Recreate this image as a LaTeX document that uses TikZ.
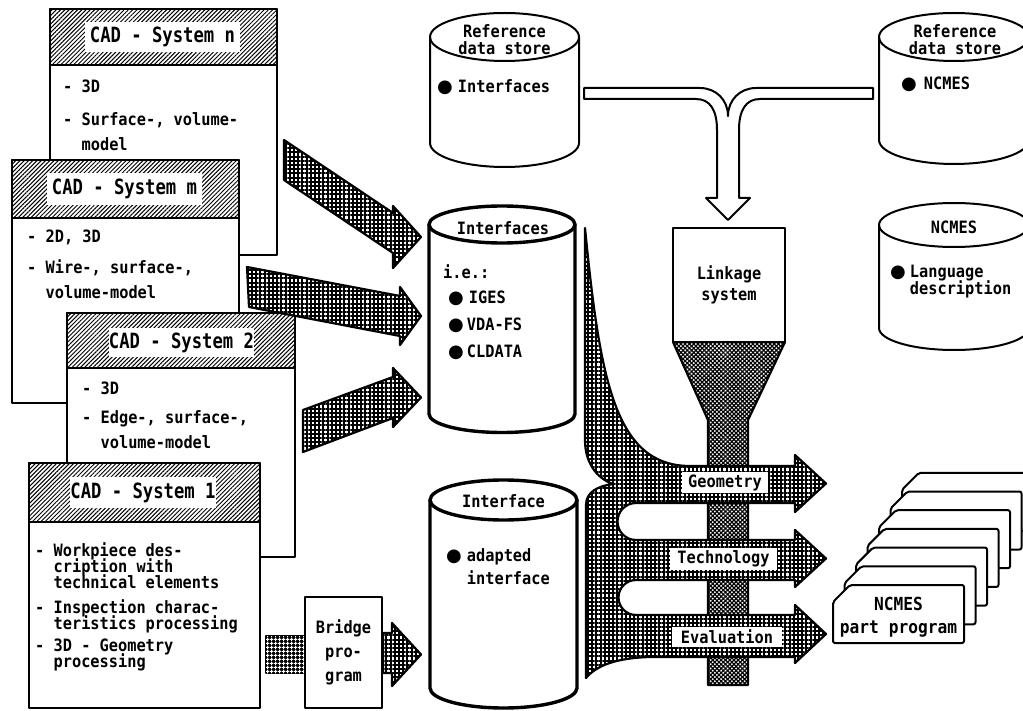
\documentclass[tikz,border=0pt]{standalone}
\usepackage{fontspec}
\usetikzlibrary{patterns.meta}
\newfontfamily\monofam[FakeStretch=0.9]{DejaVu Sans Mono Bold}
\newfontfamily\headfam[FakeStretch=0.82]{DejaVu Sans Mono Bold}
\newfontfamily\bulfam{DejaVu Sans}
\newcommand\txtfont[2]{\monofam\fontsize{#1}{#2}\selectfont\lineskiplimit=-30pt\relax}
\newcommand\cadfont{\headfam\fontsize{21}{24}\selectfont}
\newcommand\bul{{\bulfam\fontsize{18}{18}\selectfont ●}}
% cylinder: [style]{cx}{top cy}{bottom cy}{rx}{ry}
\newcommand\drum[6][]{%
  \draw[#1] ({#2-#5},#3) -- ({#2-#5},#4)
     arc[start angle=180,end angle=0,x radius=#5,y radius=#6] -- ({#2+#5},#3);
  \draw[#1] (#2,#3) ellipse[x radius=#5,y radius=#6];
}
\begin{document}
\begin{tikzpicture}[x=1pt,y=-1pt,line join=round,
  cadbox/.style={draw,line width=2.4pt,fill=white},
  cadhatch/.style={draw,line width=2.4pt,
     pattern={Lines[angle=45,distance=3pt,line width=1pt]}},
  cadtitle/.style={fill=white,inner sep=0pt,font=\cadfont},
  item/.style={anchor=north west,inner sep=0pt,align=left,font=\txtfont{17}{25}},
  tight/.style={item,font=\txtfont{17}{16}},
  txt/.style={inner sep=0pt,font=\txtfont{17}{21}},
  gridarrow/.style={draw,line width=2.2pt,preaction={fill=white},
     pattern={Hatch[angle=0,distance=4.2pt,line width=2pt]}},
  fineflow/.style={draw,line width=2.2pt,preaction={fill=white},
     pattern={Hatch[angle=45,distance=3pt,line width=1.2pt]}},
  store/.style={line width=2pt},
  boldstore/.style={line width=3.4pt},
  plainbox/.style={draw,line width=2.2pt,fill=white,inner sep=0pt,align=center},
  lab/.style={fill=white,inner sep=0pt,font=\txtfont{17}{20}},
  card/.style={draw,line width=2pt,fill=white,rounded corners=2pt}
]
\useasboundingbox (0,0) rectangle (1023,711);
\clip (0,0) rectangle (1023,711);

% ---------- CAD systems ----------
\draw[cadbox] (50,9) rectangle (277,255);
\draw[cadhatch] (50,9) rectangle (277,65);
\node[cadtitle,minimum width=155,minimum height=30] (tn) at (162.5,37) {CAD - System n};
\node[item] (n1) at (63,80) {- 3D};
\node[item] (n2) at (63,112) {- Surface-, volume-\\\hphantom{- }model};

\draw[cadbox] (12,160) rectangle (239,403);
\draw[cadhatch] (12,160) rectangle (239,218);
\node[cadtitle,minimum width=155,minimum height=32] (tm) at (124.5,189) {CAD - System m};
\node[item] (m1) at (27,230) {- 2D, 3D};
\node[item] (m2) at (27,259) {- Wire-, surface-,\\\hphantom{- }volume-model};

\draw[cadbox] (67,313) rectangle (295,557);
\draw[cadhatch] (67,313) rectangle (295,368);
\node[cadtitle,minimum width=141,minimum height=29] (t2) at (181.5,342.5) {CAD - System 2};
\node[item] (s1) at (82,382) {- 3D};
\node[item] (s2) at (82,410) {- Edge-, surface-,\\\hphantom{- }volume-model};

\draw[cadbox] (29,463) rectangle (260,708);
\draw[cadhatch] (29,463) rectangle (260,522);
\node[cadtitle,minimum width=140,minimum height=31] (t1) at (143,492.5) {CAD - System 1};
\node[tight] (w1) at (35,542) {- Workpiece des-\\\hphantom{- }cription with\\\hphantom{- }technical elements};
\node[tight] (w2) at (35,599) {- Inspection charac-\\\hphantom{- }teristics processing};
\node[tight] (w3) at (35,639) {- 3D - Geometry\\\hphantom{- }processing};

% ---------- transfer arrows into the interface store ----------
\draw[gridarrow] (284,140) -- (393,213) -- (393,206) -- (421,237) -- (393,268) -- (393,253) -- (284,180) -- cycle;
\draw[gridarrow] (247,267) -- (400,296) -- (400,287) -- (421,316) -- (400,345) -- (400,336) -- (249,307) -- cycle;
\draw[gridarrow] (303,410) -- (393,377) -- (393,368) -- (421,397.5) -- (393,427) -- (393,418) -- (303,452) -- cycle;

% ---------- bridge program ----------
\draw[line width=1.5pt,fill=black,
      postaction={pattern={Hatch[angle=0,distance=4pt,line width=1pt]},pattern color=white}]
      (266,636) rectangle (305,673);
\node[plainbox,minimum width=77,minimum height=111,font=\txtfont{17}{24}] (bridge) at (343.5,652.5) {Bridge\\pro-\\gram};
\draw[gridarrow] (bridge.east |- 0,633) -- (392,633) -- (392,623) -- (421,654.5) -- (392,686) -- (392,673) -- (bridge.east |- 0,673) -- cycle;

% ---------- data stores ----------
\drum[store]{504.5}{37}{143}{74.5}{24}
\node[txt,align=center,font=\txtfont{17}{17}] (refl) at (504.5,40) {Reference\\data store};
\node[txt,anchor=base west] (refli) at (437,93) {\bul\hspace{5pt}Interfaces};

\drum[store]{954}{37}{140}{75}{24}
\node[txt,align=center,font=\txtfont{17}{17}] (refr) at (955,40) {Reference\\data store};
\node[txt,anchor=base west] (refrn) at (901,90) {\bul\hspace{7pt}NCMES};

\drum[store]{954}{225}{328}{75}{22}
\node[txt] (ncl) at (954,227) {NCMES};
\node[item,font=\txtfont{17}{17}] (lang) at (890,265) {\bul\hspace{4pt}Language\\\hphantom{\bul\hspace{4pt}}description};

\drum[boldstore]{502}{224.5}{414}{73}{18.5}
\node[txt,anchor=base] (ifs) at (503,235) {Interfaces};
\node[txt,anchor=base west] (ie) at (443,279) {i.e.:};
\node[txt,anchor=base west] (iges) at (448,304) {\bul\hspace{5pt}IGES};
\node[txt,anchor=base west] (vda) at (448,331) {\bul\hspace{3pt}VDA-FS};
\node[txt,anchor=base west] (cld) at (448,358) {\bul\hspace{3pt}CLDATA};

\drum[boldstore]{503.5}{500}{688}{73.5}{20}
\node[txt,anchor=base] (ifc) at (503.5,507) {Interface};
\node[item,font=\txtfont{17}{23}] (adp) at (446,548.7) {\bul\hspace{5pt}adapted\\\hphantom{\bul\hspace{5pt}}interface};

% ---------- reference data feed into the linkage system ----------
\draw[line width=2pt,fill=white]
  (584,88) -- (700,88) .. controls (716,88) and (728,100) .. (728,116)
  .. controls (728,100) and (740,88) .. (756,88) -- (873,88) -- (873,99)
  -- (760,99) .. controls (746,99) and (739,110) .. (739,130) -- (739,198)
  -- (750,198) -- (728,220) -- (706,198) -- (717,198) -- (717,130)
  .. controls (717,110) and (710,99) .. (696,99) -- (584,99) -- cycle;

% ---------- linkage system with funnel ----------
\draw[fineflow] (673,342) -- (785,342) -- (748,420) -- (748,685) -- (708,685) -- (708,420) -- cycle;
\node[plainbox,minimum width=112,minimum height=114,font=\txtfont{17}{21}] (link) at (729,285) {Linkage\\system};

% ---------- collected data flows ----------
\draw[gridarrow]
  (585,228) .. controls (600,380) and (615,466) .. (690,466) -- (795,466)
  -- (795,455) -- (826,483.5) -- (795,512) -- (795,503) -- (636,503)
  arc[start angle=270,end angle=90,radius=18.5] -- (795,540)
  -- (795,530) -- (826,558.5) -- (795,587) -- (795,580) -- (636,580)
  arc[start angle=270,end angle=90,radius=17.5] -- (795,615)
  -- (795,605) -- (826,634) -- (795,663) -- (795,657) -- (650,657)
  .. controls (615,658) and (596,666) .. (586,678) -- (586,505)
  .. controls (586,492) and (598,486) .. (613,484)
  .. controls (596,478) and (585,462) .. (585,440) -- cycle;
\node[lab,minimum width=86,minimum height=21] (geo) at (725,482.5) {Geometry};
\node[lab,minimum width=107,minimum height=22] (tech) at (723.5,559) {Technology};
\node[lab,minimum width=110,minimum height=20] (eval) at (727,637) {Evaluation};

% ---------- stack of NC part programs ----------
\foreach \k in {6,5,...,0}{
  \draw[card] ({833+11.5*\k},{602-18.7*\k}) -- ({850+11.5*\k},{585-18.7*\k})
     -- ({964+11.5*\k},{585-18.7*\k}) -- ({964+11.5*\k},{643-18.7*\k})
     -- ({833+11.5*\k},{643-18.7*\k}) -- cycle;
}
\node[txt,align=center,font=\txtfont{18}{23}] (ncpp) at (898.5,617) {NCMES\\part program};
\end{tikzpicture}
\end{document}
